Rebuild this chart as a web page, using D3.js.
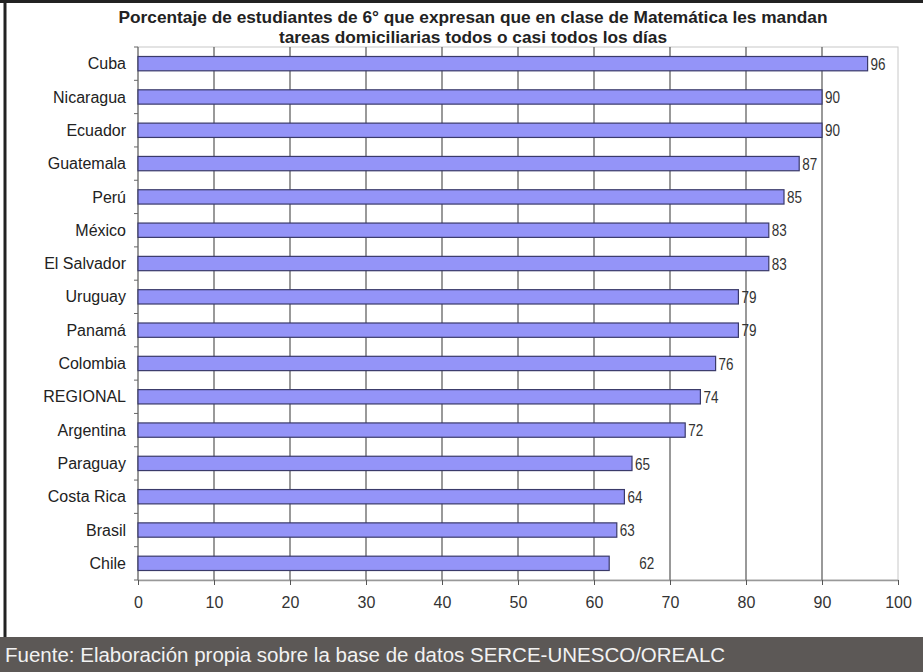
<!DOCTYPE html>
<html>
<head>
<meta charset="utf-8">
<script src="https://cdn.jsdelivr.net/npm/d3@7"></script>
<style>
  html, body { margin: 0; padding: 0; background: #fff; }
  svg { display: block; }
</style>
</head>
<body>
<svg id="chart" width="923" height="672"></svg>
<script>
// Countries, top to bottom
const countries = ["Cuba", "Nicaragua", "Ecuador", "Guatemala", "Perú", "México", "El Salvador",
  "Uruguay", "Panamá", "Colombia", "REGIONAL", "Argentina", "Paraguay", "Costa Rica", "Brasil", "Chile"];
// Percentage of 6th graders who get math homework (almost) every day
const values = [96, 90, 90, 87, 85, 83, 83, 79, 79, 76, 74, 72, 65, 64, 63, 62];
const xTicks = [0, 10, 20, 30, 40, 50, 60, 70, 80, 90, 100];
const titleLines = [
  "Porcentaje de estudiantes de 6° que expresan que en clase de Matemática les mandan",
  "tareas domiciliarias todos o casi todos los días"
];
const sourceText = "Fuente: Elaboración propia sobre la base de datos SERCE-UNESCO/OREALC";

const svg = d3.select("#chart");
const W = 923, H = 672;
const plot = { left: 138, right: 898, top: 47, bottom: 580 };
const FONT = "Liberation Sans, Arial, sans-serif";

const x = d3.scaleLinear().domain([0, 100]).range([plot.left, plot.right]);
const y = d3.scaleBand().domain(countries).range([plot.top, plot.bottom]).paddingInner(0.57).paddingOuter(0.285);
const yOuter = d3.scaleBand().domain(countries).range([plot.top, plot.bottom]);

// Frame lines
svg.append("line").attr("x1", 0).attr("x2", W).attr("y1", 1.5).attr("y2", 1.5)
  .attr("stroke", "#222").attr("stroke-width", 3);
svg.append("line").attr("x1", 5).attr("x2", 5).attr("y1", 0).attr("y2", H)
  .attr("stroke", "#222").attr("stroke-width", 3);

// Plot border (light)
svg.append("rect")
  .attr("x", plot.left).attr("y", plot.top)
  .attr("width", plot.right - plot.left).attr("height", plot.bottom - plot.top)
  .attr("fill", "#fff").attr("stroke", "#c8c8c8").attr("stroke-width", 1);

// Vertical gridlines
svg.append("g").selectAll("line")
  .data(xTicks.filter(t => t > 0 && t < 100))
  .join("line")
  .attr("x1", d => x(d)).attr("x2", d => x(d))
  .attr("y1", plot.top).attr("y2", plot.bottom)
  .attr("stroke", "#555").attr("stroke-width", 1.2);

// X axis
const xAxis = svg.append("g")
  .attr("transform", `translate(0,${plot.bottom})`)
  .call(d3.axisBottom(x).tickValues(xTicks).tickSize(5).tickPadding(12).tickSizeOuter(0));
xAxis.select(".domain").attr("stroke", "#999").attr("stroke-width", 1.5);
xAxis.selectAll(".tick line").attr("stroke", "#555");
xAxis.selectAll("text").attr("font-family", FONT)
  .attr("font-size", 16).attr("fill", "#333");

// Y axis line and ticks at band boundaries
svg.append("line").attr("x1", plot.left).attr("x2", plot.left)
  .attr("y1", plot.top).attr("y2", plot.bottom).attr("stroke", "#666").attr("stroke-width", 1.2);
const boundaries = countries.map(c => yOuter(c)).concat([plot.bottom]);
svg.append("g").selectAll("line").data(boundaries).join("line")
  .attr("x1", plot.left - 4).attr("x2", plot.left)
  .attr("y1", d => d).attr("y2", d => d)
  .attr("stroke", "#666");

// Category labels
svg.append("g").selectAll("text").data(countries).join("text")
  .attr("x", plot.left - 12)
  .attr("y", d => yOuter(d) + yOuter.bandwidth() / 2)
  .attr("dy", "0.35em")
  .attr("text-anchor", "end")
  .attr("font-family", FONT)
  .attr("font-size", 16).attr("fill", "#222")
  .text(d => d);

// Bars
const data = countries.map((c, i) => ({ c, v: values[i] }));
svg.append("g").selectAll("rect").data(data).join("rect")
  .attr("x", x(0))
  .attr("y", d => y(d.c))
  .attr("width", d => x(d.v) - x(0))
  .attr("height", y.bandwidth())
  .attr("fill", "#9494f8")
  .attr("stroke", "#3a3a6a").attr("stroke-width", 1.2);

// Value labels (condensed digits)
svg.append("g").selectAll("text").data(data).join("text")
  .attr("x", (d, i) => x(d.v) + (i === data.length - 1 ? 30 : 3))
  .attr("y", d => y(d.c) + y.bandwidth() / 2)
  .attr("dy", "0.36em")
  .attr("font-family", FONT)
  .attr("font-size", 17).attr("fill", "#333")
  .attr("textLength", 15).attr("lengthAdjust", "spacingAndGlyphs")
  .text(d => d.v);

// Title
svg.append("g").selectAll("text").data(titleLines).join("text")
  .attr("x", 473).attr("y", (d, i) => 23 + i * 20)
  .attr("text-anchor", "middle")
  .attr("font-family", FONT)
  .attr("font-weight", "bold").attr("font-size", 17.3).attr("fill", "#222")
  .text(d => d);

// Source footer
svg.append("rect").attr("x", 0).attr("y", 637).attr("width", W).attr("height", H - 637)
  .attr("fill", "#5c5856");
svg.append("text").attr("x", 5).attr("y", 662)
  .attr("font-family", FONT)
  .attr("font-size", 20.5).attr("fill", "#f2f2f2")
  .text(sourceText);
</script>
</body>
</html>
